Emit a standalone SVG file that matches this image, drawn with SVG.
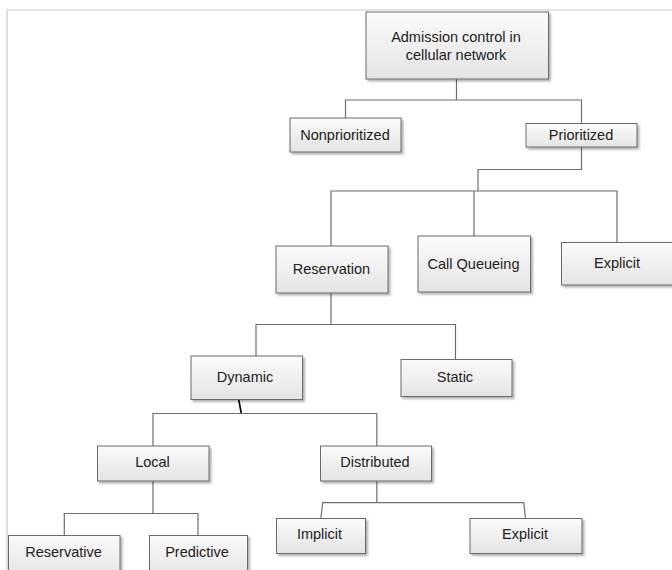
<svg xmlns="http://www.w3.org/2000/svg" width="672" height="570" viewBox="0 0 672 570">
<style>
.box{fill:url(#g);stroke:#6a6a6a;stroke-width:1;filter:url(#sh)}
.t{font-family:"Liberation Sans",Arial,sans-serif;font-size:14.5px;fill:#222;text-anchor:middle}
.c{fill:none;stroke:#6f6f6f;stroke-width:1.2}
</style>
<defs>
<linearGradient id="g" x1="0" y1="0" x2="0" y2="1">
<stop offset="0" stop-color="#fbfbfb"/>
<stop offset="1" stop-color="#e4e4e4"/>
</linearGradient>
<filter id="sh" x="-10%" y="-10%" width="130%" height="140%">
<feDropShadow dx="2" dy="2" stdDeviation="1" flood-color="#000" flood-opacity="0.3"/>
</filter>
</defs>
<rect width="672" height="570" fill="#fff"/>
<path d="M7,570 V10 H672" fill="none" stroke="#c8c8c8" stroke-width="1.2"/>
<g id="connectors">
<path class="c" d="M456.5,79 V100 M345.5,118 V100 H581.5 V123"/>
<path class="c" d="M581.5,147 V169.5 H478 V191 M331,246 V191 H617 V242 M474,191 V236"/>
<path class="c" d="M331,293 V324.5 M256,356 V324.5 H455.5 V359"/>
<path d="M238.7,399.5 L241.3,413.5" fill="none" stroke="#000" stroke-width="1.6"/>
<path class="c" d="M153,446 V413.5 H376.8 V446"/>
<path class="c" d="M153,481 V513.5 M64.3,535.5 V513.5 H198 V535.5"/>
<path class="c" d="M376.8,481 V502.7 M320.8,518.5 L322.7,502.7 H523.8 L525.5,518.5"/>
</g>
<g id="n-root"><rect class="box" x="366" y="12" width="182.5" height="67"/>
<text class="t" x="456" y="42">Admission control in</text><text class="t" x="456" y="59.5">cellular network</text></g>
<g id="n-nonprioritized"><rect class="box" x="290" y="118" width="111" height="34"/><text class="t" x="345" y="140">Nonprioritized</text></g>
<g id="n-prioritized"><rect class="box" x="526" y="123.5" width="111" height="23.5"/><text class="t" x="581" y="140">Prioritized</text></g>
<g id="n-reservation"><rect class="box" x="276" y="246" width="112" height="47"/><text class="t" x="331.5" y="274">Reservation</text></g>
<g id="n-callqueueing"><rect class="box" x="418" y="236" width="112.5" height="56"/><text class="t" x="473.5" y="268.5">Call Queueing</text></g>
<g id="n-explicit1"><rect class="box" x="561.5" y="242.5" width="115" height="42.5"/><text class="t" x="617" y="268">Explicit</text></g>
<g id="n-dynamic"><rect class="box" x="191" y="356" width="111.5" height="43.5"/><text class="t" x="245" y="382">Dynamic</text></g>
<g id="n-static"><rect class="box" x="401" y="359.5" width="111" height="37"/><text class="t" x="455" y="382">Static</text></g>
<g id="n-local"><rect class="box" x="97.5" y="446" width="111.5" height="35"/><text class="t" x="152.5" y="467">Local</text></g>
<g id="n-distributed"><rect class="box" x="320.5" y="446" width="111" height="35"/><text class="t" x="375" y="467">Distributed</text></g>
<g id="n-implicit"><rect class="box" x="276.5" y="518.5" width="89" height="35"/><text class="t" x="319.5" y="539">Implicit</text></g>
<g id="n-explicit2"><rect class="box" x="470" y="518.5" width="112" height="35"/><text class="t" x="525" y="539">Explicit</text></g>
<g id="n-reservative"><rect class="box" x="8.5" y="535.5" width="111.5" height="40"/><text class="t" x="63.5" y="557">Reservative</text></g>
<g id="n-predictive"><rect class="box" x="149.5" y="535.5" width="98" height="40"/><text class="t" x="197" y="557">Predictive</text></g>
</svg>
